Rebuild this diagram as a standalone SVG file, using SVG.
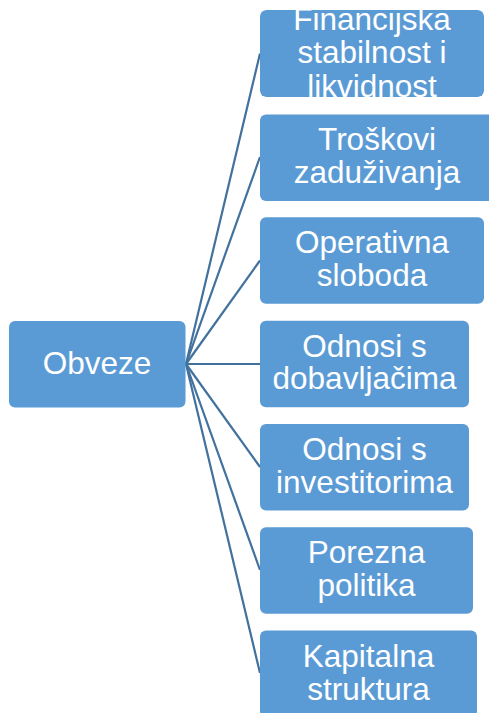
<svg xmlns="http://www.w3.org/2000/svg" width="489" height="713" viewBox="0 0 489 713">
<style>
.box{fill:#5B9BD5;}
.lbl{font-family:"Liberation Sans",Arial,sans-serif;font-size:31.5px;fill:#FFFFFF;text-anchor:middle;}
.conn line{stroke:#41719C;stroke-width:2.2;fill:none;}
</style>
<defs>
<clipPath id="c1"><rect x="260" y="10" width="224" height="87" rx="6"/></clipPath>
</defs>
<rect width="489" height="713" fill="#FFFFFF"/>
<g id="connectors" class="conn">
<line x1="186" y1="364" x2="260" y2="53.5"/>
<line x1="186" y1="364" x2="260" y2="157"/>
<line x1="186" y1="364" x2="260" y2="260.5"/>
<line x1="186" y1="364" x2="260" y2="364"/>
<line x1="186" y1="364" x2="260" y2="467"/>
<line x1="186" y1="364" x2="260" y2="570"/>
<line x1="186" y1="364" x2="260" y2="673"/>
</g>
<g id="obveze">
<rect class="box" x="9" y="321" width="176.5" height="86.5" rx="6"/>
<text class="lbl" x="97" y="373.5">Obveze</text>
</g>
<g id="financijska" clip-path="url(#c1)">
<rect class="box" x="260" y="10" width="224" height="87" rx="6"/>
<text class="lbl" x="372" y="29.5">Financijska</text>
<text class="lbl" x="372" y="63.3">stabilnost i</text>
<text class="lbl" x="372" y="97">likvidnost</text>
</g>
<g id="troskovi">
<rect class="box" x="260" y="114.5" width="234" height="86.5" rx="6"/>
<text class="lbl" x="377" y="150.3">Troškovi</text>
<text class="lbl" x="377" y="182.8">zaduživanja</text>
</g>
<g id="operativna">
<rect class="box" x="260" y="217.3" width="224" height="86.5" rx="6"/>
<text class="lbl" x="372" y="253">Operativna</text>
<text class="lbl" x="372" y="285.5">sloboda</text>
</g>
<g id="dobavljaci">
<rect class="box" x="260" y="320.7" width="209" height="86.5" rx="6"/>
<text class="lbl" x="364.5" y="356.7">Odnosi s</text>
<text class="lbl" x="364.5" y="389.3">dobavljačima</text>
</g>
<g id="investitori">
<rect class="box" x="260" y="424" width="209" height="86.5" rx="6"/>
<text class="lbl" x="364.5" y="460">Odnosi s</text>
<text class="lbl" x="364.5" y="492.6">investitorima</text>
</g>
<g id="porezna">
<rect class="box" x="260" y="527.3" width="213" height="86.5" rx="6"/>
<text class="lbl" x="366.5" y="563.3">Porezna</text>
<text class="lbl" x="366.5" y="595.9">politika</text>
</g>
<g id="kapitalna">
<rect class="box" x="260" y="630.5" width="217" height="86.5" rx="6"/>
<text class="lbl" x="368.5" y="666.7">Kapitalna</text>
<text class="lbl" x="368.5" y="699.5">struktura</text>
</g>
</svg>
